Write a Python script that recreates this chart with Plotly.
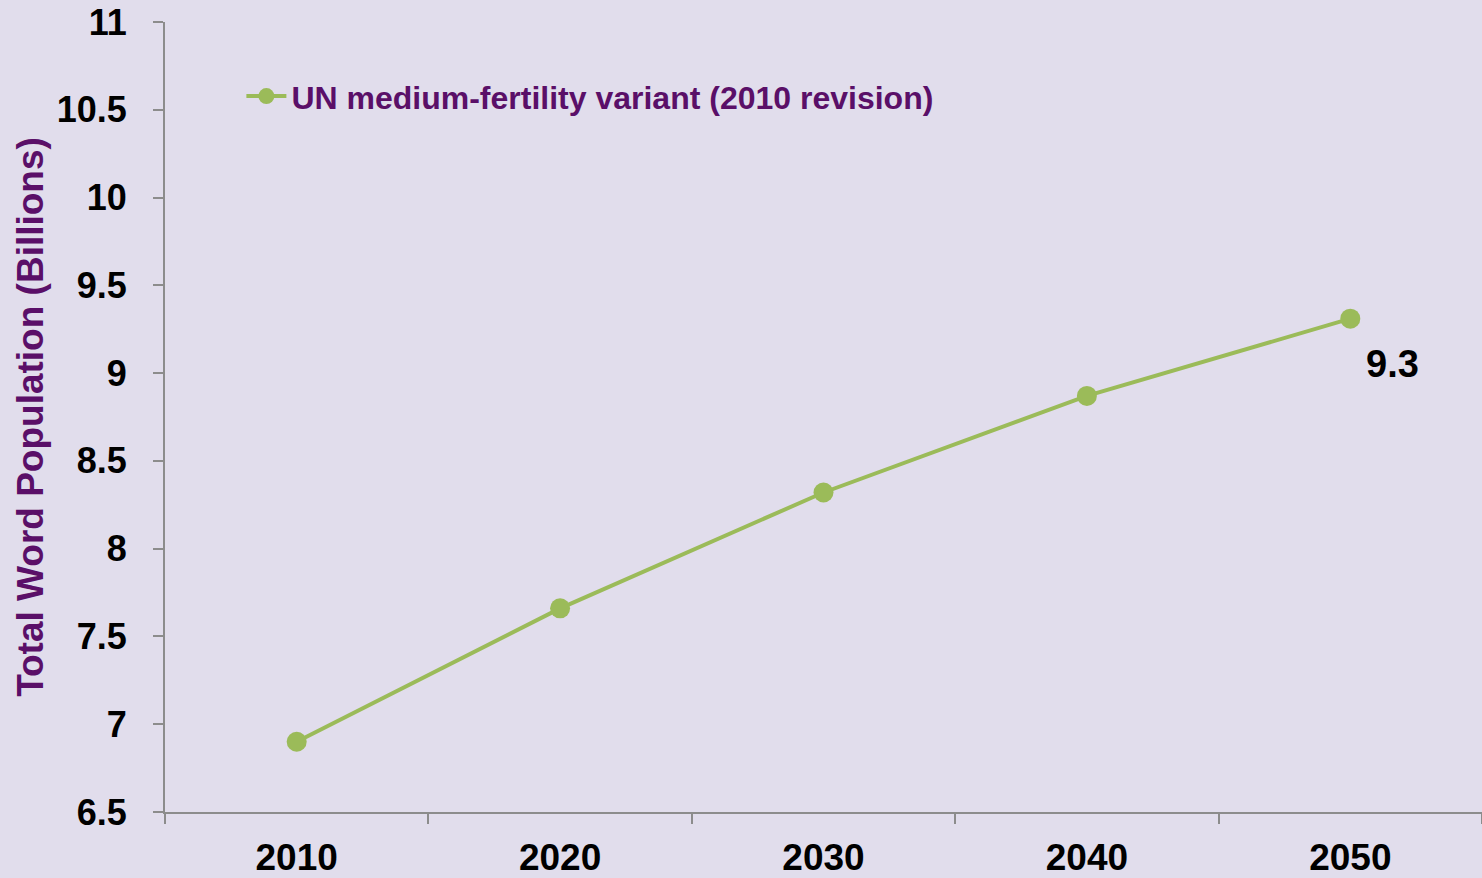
import plotly.graph_objects as go

years = ["2010", "2020", "2030", "2040", "2050"]
population = [6.90, 7.66, 8.32, 8.87, 9.31]
series_name = "UN medium-fertility variant (2010 revision)"
y_ticks = [6.5, 7, 7.5, 8, 8.5, 9, 9.5, 10, 10.5, 11]
y_tick_text = ["6.5", "7", "7.5", "8", "8.5", "9", "9.5", "10", "10.5", "11"]

BG = "#E1DDEC"
GREEN = "#9BBB59"
PURPLE = "#5A0F68"
AXIS = "#8C8C8C"
FONT = "Liberation Sans, Arial, sans-serif"

fig = go.Figure()
fig.add_trace(go.Scatter(
    x=years, y=population, mode="lines+markers", name=series_name,
    line=dict(color=GREEN, width=4),
    marker=dict(color=GREEN, size=20),
))

fig.add_annotation(
    xref="x", yref="y",
    x=len(years) - 1, y=population[-1], text=f"<b>{population[-1]:.1f}</b>",
    showarrow=False, xanchor="center", yanchor="middle",
    xshift=42, yshift=-45,
    font=dict(family=FONT, size=38, color="black"),
)

fig.update_layout(
    width=1482, height=878,
    paper_bgcolor=BG, plot_bgcolor=BG,
    margin=dict(l=165, r=0, t=22, b=64, pad=0),
    font=dict(family=FONT),
    showlegend=True,
    legend=dict(
        x=0.058, y=0.906, xanchor="left", yanchor="middle",
        bgcolor="rgba(0,0,0,0)",
        font=dict(family=FONT, size=32, color=PURPLE, weight="bold"),
        itemwidth=40, itemsizing="trace",
    ),
    xaxis=dict(
        type="category", range=[-0.5, 4.5],
        showline=True, linecolor=AXIS, linewidth=2,
        ticks="outside", ticklen=10, tickcolor=AXIS, tickwidth=2,
        tickson="boundaries", ticklabelstandoff=12,
        showgrid=False, zeroline=False,
        tickfont=dict(family=FONT, size=37, color="black", weight="bold"),
    ),
    yaxis=dict(
        range=[6.5, 11], tickvals=y_ticks, ticktext=y_tick_text,
        showline=True, linecolor=AXIS, linewidth=2,
        ticks="outside", ticklen=10, tickcolor=AXIS, tickwidth=2,
        ticklabelstandoff=19,
        showgrid=False, zeroline=False,
        tickfont=dict(family=FONT, size=36, color="black", weight="bold"),
        title=dict(text="Total Word Population (Billions)", standoff=2,
                   font=dict(family=FONT, size=37, color=PURPLE, weight="bold")),
    ),
)

fig.write_html(
    "out.html",
    config={"displayModeBar": False},
    post_script="document.body.style.margin='0';document.body.style.overflow='hidden';",
)
